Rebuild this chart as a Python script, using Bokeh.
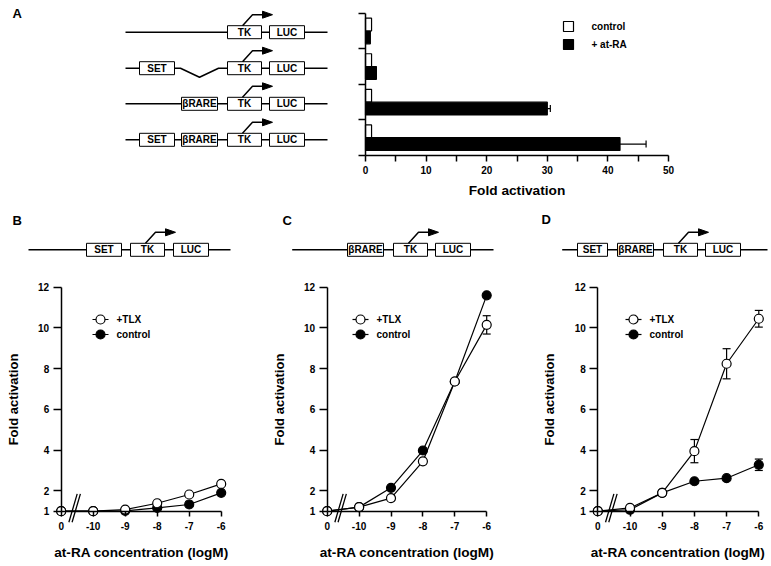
from bokeh.plotting import figure
from bokeh.models import (Range1d, LinearAxis, FixedTicker, Whisker, TeeHead,
                          ColumnDataSource)
from bokeh.core.properties import value
from bokeh.embed import file_html
from bokeh.resources import INLINE

# ---------------- data ----------------
constructs = ["TK-LUC", "SET-TK-LUC", "βRARE-TK-LUC", "SET-βRARE-TK-LUC"]
fold_control = [1.0, 1.0, 1.0, 1.0]
fold_atra = [0.8, 1.8, 30.0, 42.0]
fold_atra_err = [0.0, 0.0, 0.5, 4.3]
bar_ticks = [0, 10, 20, 30, 40, 50]
bar_minor = [5, 15, 25, 35, 45]

conc_labels = ["0", "-10", "-9", "-8", "-7", "-6"]
log_conc = [-10, -9, -8, -7, -6]
y_ticks = [1, 2, 4, 6, 8, 10, 12]

B_tlx = [1.0, 1.0, 1.08, 1.39, 1.82, 2.34]
B_tlx_err = [0, 0, 0, 0, 0, 0]
B_ctrl = [1.0, 1.0, 1.02, 1.16, 1.33, 1.9]
B_ctrl_err = [0, 0, 0, 0, 0, 0]

C_tlx = [1.0, 1.2, 1.64, 3.45, 7.37, 10.15]
C_tlx_err = [0, 0, 0, 0, 0, 0.45]
C_ctrl = [1.0, 1.2, 2.15, 3.98, 7.37, 11.6]
C_ctrl_err = [0, 0, 0, 0, 0, 0]

D_tlx = [1.0, 1.16, 1.9, 3.95, 8.24, 10.45]
D_tlx_err = [0, 0, 0, 0.57, 0.74, 0.41]
D_ctrl = [1.0, 1.07, 1.9, 2.47, 2.62, 3.28]
D_ctrl_err = [0, 0, 0, 0, 0, 0.28]

# ---------------- layout helpers ----------------
W, H, M = 771, 566, 0
FONT = "Liberation Sans"
BREAK_X = -11  # axis position used for the "0" concentration (axis break)


def fx(wx):
    return wx - M


def fy(wy):
    return H + M - wy


def xr(v0, wx0, ppu):
    s = v0 - fx(wx0) / ppu
    return Range1d(s, s + W / ppu)


def yr(v0, wy0, ppu):
    s = v0 - fy(wy0) / ppu
    return Range1d(s, s + H / ppu)


p = figure(width=W, height=H, x_range=Range1d(0, W), y_range=Range1d(0, H),
           x_axis_type=None, y_axis_type=None, toolbar_location=None,
           output_backend="svg", min_border=0, outline_line_color=None)
p.background_fill_color = "white"

p.extra_x_ranges = {
    "A": xr(0, 365, 303 / 50),
    "B": xr(BREAK_X, 60.7, 32.0),
    "C": xr(BREAK_X, 326.7, 31.9),
    "D": xr(BREAK_X, 597.3, 32.2),
}
p.extra_y_ranges = {
    "A": yr(0, 155, 142.3 / 4),
    "L": yr(1, 510.7, 224 / 11),
}


def style_axis(ax, title_size="13px"):
    ax.axis_line_width = 1.5
    ax.axis_line_color = "black"
    ax.major_tick_line_width = 1.5
    ax.minor_tick_line_width = 1.5
    ax.major_tick_line_color = "black"
    ax.minor_tick_line_color = "black"
    ax.major_tick_in = 0
    ax.minor_tick_in = 0
    ax.major_label_text_font = FONT
    ax.major_label_text_font_style = "bold"
    ax.major_label_text_font_size = "10px"
    ax.major_label_text_color = "black"
    ax.axis_label_text_font = FONT
    ax.axis_label_text_font_style = "bold"
    ax.axis_label_text_font_size = title_size
    ax.axis_label_text_color = "black"


# ---------------- panel A bar chart ----------------
n = len(constructs)
row_c = [n - i - 0.5 for i in range(n)]
bar_src = ColumnDataSource(dict(
    y_open=[c + 0.18 for c in row_c], y_fill=[c - 0.18 for c in row_c],
    ctrl=fold_control, atra=fold_atra, name=constructs))
p.hbar(y="y_open", left=0, right="ctrl", height=0.36, fill_color="white",
       line_color="black", line_width=1.2, source=bar_src,
       x_range_name="A", y_range_name="A")
p.hbar(y="y_fill", left=0, right="atra", height=0.36, fill_color="black",
       line_color="black", line_width=1.2, source=bar_src,
       x_range_name="A", y_range_name="A")
err_rows = [i for i in range(n) if fold_atra_err[i] > 0]
err_src = ColumnDataSource(dict(
    y=[row_c[i] - 0.18 for i in err_rows],
    lo=[fold_atra[i] for i in err_rows],
    hi=[fold_atra[i] + fold_atra_err[i] for i in err_rows]))
p.add_layout(Whisker(source=err_src, base="y", lower="lo", upper="hi",
                     dimension="width", lower_head=None,
                     upper_head=TeeHead(size=7, line_width=1.2),
                     line_width=1.2, level="underlay",
                     x_range_name="A", y_range_name="A"))

axA_x = LinearAxis(x_range_name="A", y_range_name="A", fixed_location=0,
                   bounds=(0, 50),
                   ticker=FixedTicker(ticks=bar_ticks, minor_ticks=bar_minor),
                   axis_label="Fold activation")
style_axis(axA_x, "13.7px")
axA_x.major_tick_out = 6
axA_x.minor_tick_out = 6
axA_x.major_label_standoff = 4
axA_x.axis_label_standoff = 6
p.add_layout(axA_x, "below")

axA_y = LinearAxis(x_range_name="A", y_range_name="A", fixed_location=0,
                   bounds=(0, n), ticker=FixedTicker(ticks=list(range(n + 1))),
                   major_label_overrides={i: "" for i in range(n + 1)})
style_axis(axA_y)
axA_y.major_tick_out = 7
p.add_layout(axA_y, "left")

# legend for A
p.scatter([fx(568), fx(568)], [fy(26), fy(44)], marker="square", size=10,
          fill_color=["white", "black"], line_color="black", line_width=1.2)
p.text([fx(591), fx(591)], [fy(26), fy(44)], text=["control", "+ at-RA"],
       text_font=value(FONT), text_font_style="bold", text_font_size="10px",
       text_baseline="middle", text_align="left", text_color="black")

# ---------------- panels B, C, D ----------------
xs = [BREAK_X] + log_conc
panels = [
    ("B", B_tlx, B_tlx_err, B_ctrl, B_ctrl_err, 100),
    ("C", C_tlx, C_tlx_err, C_ctrl, C_ctrl_err, 360),
    ("D", D_tlx, D_tlx_err, D_ctrl, D_ctrl_err, 633),
]
for name, tlx, tlx_err, ctrl, ctrl_err, leg_x in panels:
    kw = dict(x_range_name=name, y_range_name="L")
    for vals, errs in ((tlx, tlx_err), (ctrl, ctrl_err)):
        idx = [i for i in range(len(xs)) if errs[i] > 0]
        if idx:
            src = ColumnDataSource(dict(x=[xs[i] for i in idx],
                                        lo=[vals[i] - errs[i] for i in idx],
                                        hi=[vals[i] + errs[i] for i in idx]))
            p.add_layout(Whisker(source=src, base="x", lower="lo", upper="hi",
                                 upper_head=TeeHead(size=8, line_width=1.2),
                                 lower_head=TeeHead(size=8, line_width=1.2),
                                 line_width=1.2, level="underlay", **kw))
    p.line(xs, ctrl, line_color="black", line_width=1.2, **kw)
    p.line(xs, tlx, line_color="black", line_width=1.2, **kw)
    p.scatter(xs, ctrl, size=9, fill_color="black", line_color="black",
              line_width=1.2, **kw)
    p.scatter(xs, tlx, size=9, fill_color="white", line_color="black",
              line_width=1.2, **kw)

    # axis break marks
    p.segment(x0=[-10.76, -10.66], y0=[0.46, 0.46], x1=[-10.5, -10.4],
              y1=[1.85, 1.85], line_color="black", line_width=1.3, **kw)

    axx = LinearAxis(fixed_location=1, bounds=(BREAK_X, log_conc[-1]),
                     ticker=FixedTicker(ticks=xs),
                     major_label_overrides={x: lab for x, lab in zip(xs, conc_labels)},
                     axis_label="at-RA concentration (logM)", **kw)
    style_axis(axx, "13.6px")
    axx.major_tick_out = 5
    axx.major_label_standoff = 6
    axx.axis_label_standoff = 11
    p.add_layout(axx, "below")

    axy = LinearAxis(fixed_location=BREAK_X, bounds=(1, 12),
                     ticker=FixedTicker(ticks=y_ticks),
                     axis_label="Fold activation", **kw)
    style_axis(axy)
    axy.major_tick_out = 8
    axy.major_label_standoff = 4
    axy.axis_label_standoff = 14
    p.add_layout(axy, "left")

    # legend
    ly = [319, 334]
    p.segment(x0=[fx(leg_x - 8)] * 2, y0=[fy(v) for v in ly],
              x1=[fx(leg_x + 8)] * 2, y1=[fy(v) for v in ly],
              line_color="black", line_width=1.2)
    p.scatter([fx(leg_x)] * 2, [fy(v) for v in ly], size=9,
              fill_color=["white", "black"], line_color="black", line_width=1.2)
    p.text([fx(leg_x + 16)] * 2, [fy(v) for v in ly], text=["+TLX", "control"],
           text_font=value(FONT), text_font_style="bold", text_font_size="10px",
           text_baseline="middle", text_align="left", text_color="black")

# ---------------- construct diagrams ----------------
BOX_W = {"SET": 35, "βRARE": 36, "TK": 34, "LUC": 35}
diagrams = [
    # (line start, line end, row y, boxes [(label, left)], dip)
    (125, 327, 31.7, [("TK", 227), ("LUC", 269)], None),
    (125, 327, 67.7, [("SET", 139), ("TK", 227), ("LUC", 269)], (180, 199, 218)),
    (125, 327, 103.3, [("βRARE", 181), ("TK", 227), ("LUC", 269)], None),
    (125, 327, 139.3, [("SET", 139), ("βRARE", 181), ("TK", 227), ("LUC", 269)], None),
    (28, 230, 249.3, [("SET", 86), ("TK", 130), ("LUC", 173)], None),
    (291.7, 493, 249.3, [("βRARE", 347), ("TK", 393), ("LUC", 435)], None),
    (561.7, 767, 249.3, [("SET", 577), ("βRARE", 617), ("TK", 663), ("LUC", 705)], None),
]
line_xs, line_ys = [], []
rx, ry, rw, rlab = [], [], [], []
arr_xs, arr_ys, head_xs, head_ys = [], [], [], []
for x0, x1, ry0, boxes, dip in diagrams:
    if dip:
        line_xs.append([fx(x0), fx(dip[0]), fx(dip[1]), fx(dip[2]), fx(x1)])
        line_ys.append([fy(ry0), fy(ry0), fy(ry0 + 9), fy(ry0), fy(ry0)])
    else:
        line_xs.append([fx(x0), fx(x1)])
        line_ys.append([fy(ry0), fy(ry0)])
    for lab, left in boxes:
        w = BOX_W[lab] if not (lab == "SET" and left == 577) else 30
        rx.append(fx(left + w / 2))
        ry.append(fy(ry0))
        rw.append(w)
        rlab.append(lab)
        if lab == "TK":
            top = ry0 - 6.5
            arr_xs.append([fx(left + 15), fx(left + 25), fx(left + 36)])
            arr_ys.append([fy(top), fy(top - 11), fy(top - 11)])
            head_xs.append([fx(left + 35), fx(left + 35), fx(left + 45)])
            head_ys.append([fy(top - 14.5), fy(top - 7.5), fy(top - 11)])

p.multi_line(line_xs, line_ys, line_color="black", line_width=1.5)
p.rect(rx, ry, width=rw, height=13, fill_color="white", line_color="black",
       line_width=1.0)
p.text(rx, ry, text=rlab, text_font=value(FONT), text_font_style="bold",
       text_font_size="10px", text_align="center", text_baseline="middle",
       text_color="black")
p.multi_line(arr_xs, arr_ys, line_color="black", line_width=1.5)
p.patches(head_xs, head_ys, fill_color="black", line_color="black", line_width=1)

# panel letters
p.text([fx(16.7), fx(16.7), fx(286.7), fx(545.7)],
       [fy(13.3), fy(220), fy(220), fy(219)], text=["A", "B", "C", "D"],
       text_font=value(FONT), text_font_style="bold", text_font_size="13px",
       text_align="center", text_baseline="middle", text_color="black")

open("out.html", "w").write(file_html(p, INLINE))
